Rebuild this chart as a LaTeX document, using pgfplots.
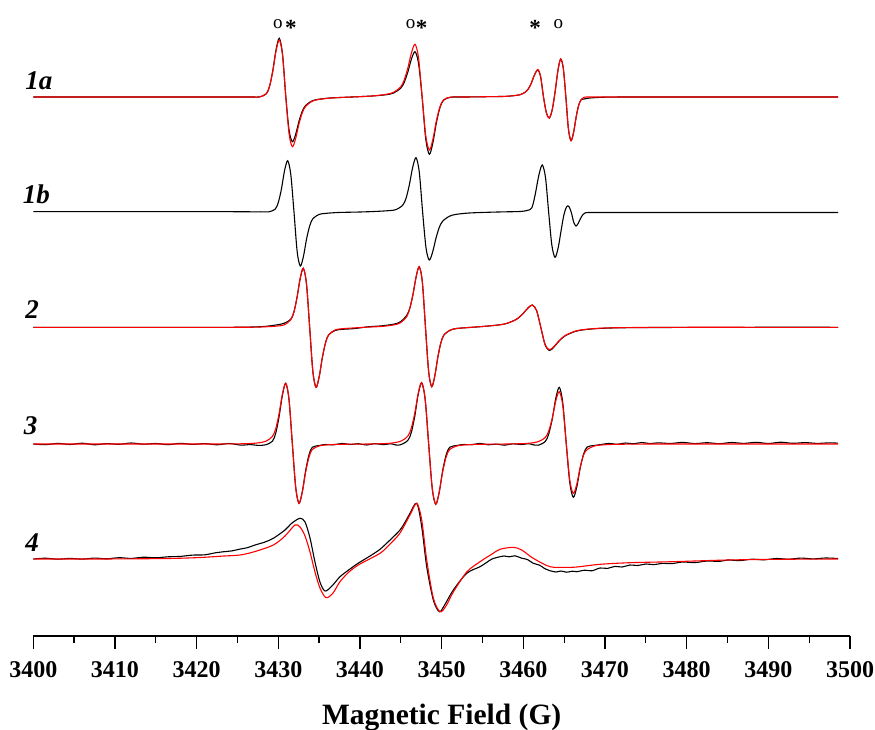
\documentclass[border=0pt]{standalone}
\usepackage{fontspec}
\setmainfont{Liberation Serif}
\usepackage{pgfplots}
\pgfplotsset{compat=1.18}

\begin{document}
\begin{tikzpicture}
\begin{axis}[
    name=ax,
    scale only axis,
    width=816.7pt, height=636pt,
    xmin=3400, xmax=3500, ymin=0, ymax=636,
    enlargelimits=false,
    clip=false,
    axis x line*=bottom,
    axis y line=none,
    xtick={3400,3410,3420,3430,3440,3450,3460,3470,3480,3490,3500},
    xticklabels={3400,3410,3420,3430,3440,3450,3460,3470,3480,3490,3500},
    minor x tick num=1,
    tick align=outside,
    major tick length=13pt,
    minor tick length=7pt,
    axis line style={line width=1.3pt, black},
    every tick/.append style={line width=1.3pt, black},
    xticklabel style={font=\fontsize{24}{28}\selectfont\bfseries, anchor=base, yshift=-28.7pt},
    xlabel={Magnetic Field (G)},
    xlabel style={font=\fontsize{29.5}{34}\selectfont\bfseries, at={(axis description cs:0.5,0)}, anchor=base, yshift=-88pt},
]

% ---- 1a
\addplot[black, line width=1.1pt, smooth] coordinates {
(3400,539) (3409,539) (3416,539) (3421,539) (3424,539) (3426,539) (3427.0,539)
(3427.72,539.1) (3428.52,542.2) (3428.92,549.6) (3429.32,565.2) (3429.72,586.1) (3430.12,597.7) (3430.52,581.7) (3430.92,539) (3431.32,505.8) (3431.72,494.3) (3432.12,501.6) (3432.52,514.4) (3432.92,524.5) (3433.32,530.3) (3434.12,535) (3434.92,536.7) (3436.52,538.1) (3439,539)
(3441.49,540) (3443.24,541.3) (3444.11,543) (3444.99,547.8) (3445.42,553.7) (3445.86,563.9) (3446.30,576.9) (3446.74,584.3) (3447.17,572.6) (3447.61,539) (3448.05,497.3) (3448.49,481.7) (3448.92,493) (3449.36,513.4) (3449.80,528.6) (3450.24,535.8) (3451.11,538.8) (3453,539) (3455.5,539.3)
(3457.76,539.6) (3458.98,540.5) (3459.59,541.3) (3460.21,543.6) (3460.57,546.6) (3460.94,552) (3461.31,560) (3461.76,566) (3462.12,559) (3462.47,539) (3462.83,523) (3463.18,518) (3463.54,526.3) (3463.88,543.6) (3464.25,566.1) (3464.58,577) (3464.90,567.3) (3465.21,539) (3465.52,507.2) (3465.84,495.3) (3466.16,503.9) (3466.48,519.5) (3466.79,531.1) (3467.10,536.6) (3467.43,537) (3468.16,538) (3470,538.8) (3473,539) (3478,539) (3486,539) (3498.53,539)
};
\addplot[red, line width=1.1pt, smooth] coordinates {
(3400,539) (3409,539) (3416,539) (3421,539) (3424,539) (3426,539) (3427.0,539)
(3427.72,539.1) (3428.52,542.1) (3428.92,549.3) (3429.32,564.4) (3429.72,584.8) (3430.12,596) (3430.52,580.5) (3430.92,539) (3431.32,502.1) (3431.72,489.3) (3432.12,497.4) (3432.52,511.7) (3432.92,522.9) (3433.32,529.4) (3434.12,534.6) (3434.92,536.5) (3436.52,538) (3439,539)
(3441.49,540) (3443.24,541.7) (3444.11,543.7) (3444.99,549.2) (3445.42,556.1) (3445.86,568) (3446.30,583.1) (3446.74,591.7) (3447.17,578.1) (3447.61,539) (3448.05,500.4) (3448.49,486) (3448.92,496.4) (3449.36,515.4) (3449.80,529.4) (3450.24,536.1) (3451.11,538.9) (3453,539) (3455.5,539.3)
(3457.76,539.6) (3458.98,540.5) (3459.59,541.3) (3460.21,543.6) (3460.57,546.6) (3460.94,552) (3461.31,560) (3461.76,566.5) (3462.12,559.5) (3462.47,539) (3462.83,523) (3463.18,518) (3463.54,526.3) (3463.88,543.6) (3464.25,566.1) (3464.58,577) (3464.90,567.3) (3465.21,539) (3465.52,507.2) (3465.84,495.3) (3466.16,503.9) (3466.48,519.5) (3466.79,531.1) (3467.10,536.6) (3467.43,538.7) (3468.16,539) (3470,539) (3473,539) (3478,539) (3486,539) (3498.53,539)
};

% ---- 1b
\addplot[black, line width=1.1pt, smooth] coordinates {
(3400,424.3) (3409,424.3) (3416,424.3) (3421,424.3) (3424.5,424.3) (3426.5,424.2) (3427.8,424.2)
(3428.84,424.2) (3429.61,426.8) (3429.99,433.3) (3430.38,446.9) (3430.76,465.2) (3431.15,475.3) (3431.53,461.3) (3431.92,424) (3432.31,384.3) (3432.69,370) (3433.08,379.7) (3433.46,397.1) (3433.85,410.3) (3434.23,417.3) (3435.00,421.6) (3435.78,422.6) (3437.32,423.5) (3440,424) (3442,424.6)
(3443.60,425.4) (3444.41,426.4) (3445.23,430.8) (3445.64,437.7) (3446.04,451) (3446.45,468.5) (3446.86,478.3) (3447.26,463.9) (3447.67,424) (3448.08,388.4) (3448.48,376) (3448.89,383.8) (3449.30,397.6) (3449.70,408.4) (3450.11,414.7) (3450.93,419.7) (3451.74,421.6) (3453.37,423) (3456,423.8) (3458,424.2)
(3459.59,424.5) (3460.45,425.5) (3461.03,428) (3461.43,440.5) (3461.90,460.7) (3462.32,471) (3462.72,458.2) (3463.10,424) (3463.49,391) (3463.88,378.7) (3464.27,388.4) (3464.66,407.1) (3464.98,421.6) (3465.31,429.4) (3465.59,429.4) (3465.88,423.4) (3466.17,413.8) (3466.45,410) (3466.73,412.8) (3467.02,417.8) (3467.31,421.5) (3467.59,423.2) (3468.17,423.5) (3469.3,423.5) (3471.5,423.5) (3475.5,423.5) (3482,423.5) (3490,423.5) (3498.53,423.5)
};

% ---- 2
\addplot[black, line width=1.1pt, smooth] coordinates {
(3400,308.7) (3409,308.7) (3416,308.7) (3421,308.7) (3424.5,308.7) (3426.8,309) (3428.4,309.6)
(3429.95,311.3) (3430.73,312.8) (3431.51,316.6) (3431.90,323.6) (3432.28,338.1) (3432.67,357.1) (3433.06,367.7) (3433.45,352.1) (3433.84,308.7) (3434.23,264.6) (3434.62,248.7) (3435.01,259.5) (3435.40,278.8) (3435.79,293.5) (3436.17,301.2) (3436.95,305.5) (3437.73,306.6) (3439.29,307.4)
(3441,309.2) (3442.71,310.2) (3444.23,312) (3444.98,314.4) (3445.74,320.8) (3446.12,328.3) (3446.50,342) (3446.88,359.4) (3447.26,369.3) (3447.64,353.7) (3448.02,308.7) (3448.40,265) (3448.78,249.3) (3449.16,260) (3449.54,279.1) (3449.92,293.7) (3450.30,301.3) (3451.06,305.8)
(3451.82,307.5) (3453.33,308.5) (3454.85,309.4) (3456.94,311) (3457.98,312.6) (3459.02,316.1) (3459.54,319.1) (3460.06,323.3) (3460.58,328.1) (3461.10,331) (3461.62,325.6) (3462.14,308.7) (3462.66,291.5) (3463.18,285.5) (3463.70,288.5) (3464.22,293.5) (3464.74,297.8) (3465.26,300.8) (3466.30,304.4) (3467.35,306.2) (3469.43,307.6) (3472.55,308.3) (3480,308.6) (3488,308.7) (3498.53,308.7)
};
\addplot[red, line width=1.1pt, smooth] coordinates {
(3400,308.7) (3409,308.7) (3416,308.7) (3421,308.7) (3424.5,308.7) (3426.8,308.8) (3428.4,309.2)
(3429.95,310.0) (3430.73,311.2) (3431.51,316.1) (3431.90,323.6) (3432.28,338.1) (3432.67,357.1) (3433.06,367.7) (3433.45,352.1) (3433.84,308.7) (3434.23,264.6) (3434.62,248.7) (3435.01,259.5) (3435.40,278.8) (3435.79,293.5) (3436.17,301.2) (3436.95,306) (3437.73,307.2) (3439.29,308.1)
(3441,308.9) (3442.71,309.6) (3444.23,311.2) (3444.98,313.4) (3445.74,319.6) (3446.12,328.3) (3446.50,342) (3446.88,359.4) (3447.26,369.3) (3447.64,353.7) (3448.02,308.7) (3448.40,265) (3448.78,249.3) (3449.16,260) (3449.54,279.1) (3449.92,293.7) (3450.30,301.3) (3451.06,306)
(3451.82,307.5) (3453.33,308.5) (3454.85,309.4) (3456.94,311) (3457.98,312.6) (3459.02,316.1) (3459.54,319.1) (3460.06,323.3) (3460.58,328.1) (3461.10,331) (3461.62,325.6) (3462.14,308.7) (3462.66,291.5) (3463.18,286.3) (3463.70,289) (3464.22,293.9) (3464.74,298.1) (3465.26,301.1) (3466.30,304.7) (3467.35,306.4) (3469.43,307.8) (3472.55,308.4) (3480,308.7) (3488,308.7) (3498.53,308.7)
};

% ---- 3
\addplot[black, line width=1.1pt, smooth] coordinates {
(3400,192) (3401.5,191.3) (3403,192.6) (3404.5,191.5) (3406,192.8) (3407.5,191.2) (3409,192.4) (3410.5,191.7) (3412,193) (3413.5,191.8) (3415,192.5) (3416.5,191.3) (3418,192.7) (3419.5,191.6) (3421,192.4) (3422.5,191.2) (3424,192.5) (3425.5,190.8) (3426.5,191.5) (3427.5,190.6)
(3428.46,191.2) (3429.28,194.8) (3429.69,203) (3430.09,219.1) (3430.50,240.7) (3430.91,252.7) (3431.31,236.2) (3431.72,192) (3432.13,148.8) (3432.53,132.7) (3432.94,144.4) (3433.35,165.6) (3433.76,181.3) (3434.16,188.7) (3434.98,190.5) (3435.79,191.5)
(3436.8,191.2) (3437.8,192.6) (3438.8,191.5) (3439.8,192.3) (3440.8,191) (3441.8,192.4) (3442.8,191.4) (3443.8,192.2) (3444.4,191)
(3444.98,191.3) (3445.84,195.4) (3446.27,203.1) (3446.70,219.3) (3447.12,241.2) (3447.55,253.3) (3447.98,236.6) (3448.41,192) (3448.84,148.1) (3449.27,131.7) (3449.70,143.6) (3450.12,165.1) (3450.55,181.1) (3450.98,188.7) (3451.84,190.5) (3452.70,191.5)
(3453.7,191.3) (3454.7,192.6) (3455.7,191.2) (3456.7,191.9) (3457.7,190.8) (3458.7,192.2) (3459.7,191.5) (3460.7,192.3) (3461.3,191)
(3461.83,190.8) (3462.69,194.5) (3463.12,202.3) (3463.55,217.3) (3463.97,237.5) (3464.40,248.7) (3464.83,233.3) (3465.26,192) (3465.69,153.2) (3466.12,138.7) (3466.55,149.2) (3466.97,168.2) (3467.40,182.4) (3467.83,189.1) (3468.69,190.5) (3469.55,191.5)
(3470.5,192.6) (3471.5,191.7) (3472.5,193) (3473.5,192.2) (3474.5,193.5) (3475.5,192.4) (3476.5,193.2) (3478,192.5) (3479.5,193.6) (3481,192.4) (3482.5,193.3) (3484,192.3) (3485.5,193.5) (3487,192.6) (3488.5,193.7) (3490,192.5) (3491.5,193.8) (3493,192.7) (3494.5,193.4) (3496,192.6) (3497.5,193.2) (3498.53,192.8)
};
\addplot[red, line width=1.1pt, smooth] coordinates {
(3400,192) (3409,192) (3416,192) (3421,192) (3424,192.1) (3426,192.3) (3427.4,193)
(3428.46,194.7) (3429.28,199.6) (3429.69,207.4) (3430.09,222.2) (3430.50,241.8) (3430.91,252.7) (3431.31,236.6) (3431.72,192) (3432.13,148.6) (3432.53,132.7) (3432.94,144) (3433.35,164) (3433.76,179) (3434.16,186.5) (3434.98,190) (3435.79,191) (3437.5,191.7) (3441,192) (3443.5,192.6)
(3444.98,194.8) (3445.84,199.7) (3446.27,207.5) (3446.70,222.5) (3447.12,242.3) (3447.55,253.3) (3447.98,237.1) (3448.41,192) (3448.84,148.3) (3449.27,131.7) (3449.70,144) (3450.12,164) (3450.55,179) (3450.98,186.5) (3451.84,190) (3452.70,191) (3454.5,191.7) (3458,192) (3460.5,192.6)
(3461.83,194.4) (3462.69,198.5) (3463.12,205.2) (3463.55,218) (3463.97,234.9) (3464.40,244.3) (3464.83,230.4) (3465.26,192) (3465.69,155.8) (3466.12,142.7) (3466.55,152) (3466.97,169) (3467.40,181.5) (3467.83,186.5) (3468.69,190) (3469.55,191) (3471.5,191.7) (3476,192) (3483,192) (3490,192) (3498.53,192)
};

% ---- 4
\addplot[black, line width=1.1pt, smooth] coordinates {
(3400,77) (3401.5,77.8) (3403,76.8) (3404.5,77.6) (3406,76.9) (3407.5,77.9) (3409,77.2) (3410.5,78.3) (3412,77.6) (3413.5,78.8) (3415,78.2) (3416.5,79.2) (3418,79.6) (3419.5,80.9) (3421,81.2) (3422.3,83.2) (3423.35,84.3) (3424.3,85.1) (3425.31,86.9) (3426.2,88.3) (3427.15,91) (3428.3,93.8) (3429.39,97.7)
(3430.82,106) (3431.68,113) (3432.66,117.7) (3433.27,114) (3433.88,98) (3434.49,74) (3435.10,54) (3435.72,45) (3436.57,50) (3437.55,59.3) (3438.78,67) (3439.76,72.7) (3441.23,80) (3442.45,86.7) (3443.68,96) (3444.90,106) (3445.6,115) (3446.12,122.7) (3446.95,132.7) (3447.56,109.3) (3448.17,69.3) (3448.98,36) (3449.71,24.3) (3450.29,30) (3451.43,46) (3453.07,62.7) (3454.70,69.3) (3455.5,73.5) (3456.17,77) (3457.14,79.3) (3457.63,80)
(3458.3,79.2) (3458.98,80.2) (3459.8,77.8) (3460.5,76.5) (3461.22,72.7) (3462,70.8) (3462.6,67.5) (3463.27,65.3) (3464,64) (3464.6,65) (3465.31,63.8) (3466,64.8) (3466.54,64.3) (3467.5,65.8) (3468.4,65.2) (3469.39,68) (3470.3,67.6) (3471.2,69.6) (3472.1,69) (3473.06,71) (3474,70.5) (3475,72) (3476,71.4) (3477,72.6) (3478.21,72.4) (3479.5,74) (3481,73.4) (3482.5,75) (3484,74.6) (3485.06,76) (3486.5,75.4) (3488,76.8) (3489.5,76.2) (3491,77.5) (3492.5,76.8) (3494,77.9) (3495.5,77.1) (3497,78) (3498.53,77.5)
};
\addplot[red, line width=1.1pt, smooth] coordinates {
(3400,77) (3408.17,77) (3416.49,77.5) (3420.41,78.5) (3423.35,80) (3425.31,81) (3427.15,84.5) (3429.39,91) (3430.82,100) (3432.04,111) (3432.66,109) (3433.27,100) (3433.88,84) (3434.49,64) (3435.10,48) (3435.84,38.3) (3436.70,43) (3437.55,54.3) (3438.78,65) (3440.00,72) (3442.45,82.7) (3443.68,92) (3444.90,103) (3446.12,121) (3446.95,132.7) (3447.56,116) (3448.17,76) (3448.98,38) (3449.80,24.3) (3450.53,30) (3451.43,44) (3453.07,64) (3454.70,74.3) (3456.17,82) (3457.14,86.7) (3458.77,88.7) (3459.8,86) (3461.22,77.7) (3463.27,69.3) (3465.31,68.7) (3466.54,69) (3469.39,71.7) (3473.06,73.3) (3478.21,74.3) (3485.06,76) (3491.43,76.7) (3498.53,77)
};

% spectrum labels
\node[anchor=base west, font=\fontsize{27}{30}\selectfont\bfseries\itshape] at (axis cs:3398.6,546.7) {1a};
\node[anchor=base west, font=\fontsize{27}{30}\selectfont\bfseries\itshape] at (axis cs:3398.3,432) {1b};
\node[anchor=base west, font=\fontsize{27}{30}\selectfont\bfseries\itshape] at (axis cs:3398.6,317.7) {2};
\node[anchor=base west, font=\fontsize{27}{30}\selectfont\bfseries\itshape] at (axis cs:3398.4,201.7) {3};
\node[anchor=base west, font=\fontsize{27}{30}\selectfont\bfseries\itshape] at (axis cs:3398.6,84.3) {4};

% line markers
\node[anchor=base, inner sep=0pt, font=\fontsize{19}{22}\selectfont] at (axis cs:3429.96,607.7) {o};
\node[anchor=center, inner sep=0pt, font=\fontsize{23}{26}\selectfont\bfseries] at (axis cs:3431.53,607.8) {*};
\node[anchor=base, inner sep=0pt, font=\fontsize{19}{22}\selectfont] at (axis cs:3446.19,607.7) {o};
\node[anchor=center, inner sep=0pt, font=\fontsize{23}{26}\selectfont\bfseries] at (axis cs:3447.56,607.8) {*};
\node[anchor=center, inner sep=0pt, font=\fontsize{23}{26}\selectfont\bfseries] at (axis cs:3461.43,607.8) {*};
\node[anchor=base, inner sep=0pt, font=\fontsize{19}{22}\selectfont] at (axis cs:3464.28,607.7) {o};
\end{axis}
\pgfresetboundingbox
\path[use as bounding box] ([xshift=-33.3pt,yshift=-93pt]ax.south west) rectangle ([xshift=25pt]ax.north east);
\end{tikzpicture}
\end{document}
